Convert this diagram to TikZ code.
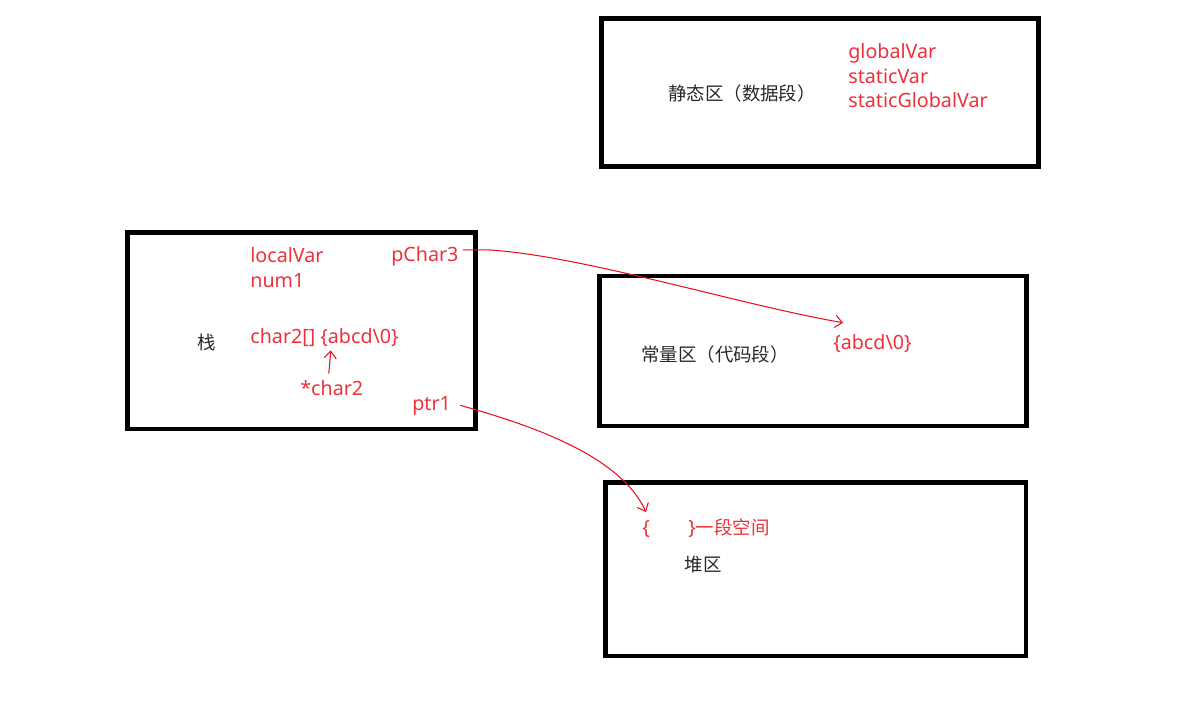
\documentclass[tikz,border=0pt]{standalone}
\usepackage{fontspec}
\setmainfont{Noto Sans}
\newfontfamily\cjk{Noto Sans CJK SC}
\usetikzlibrary{arrows.meta}
\definecolor{notered}{RGB}{238,48,58}
\definecolor{linered}{RGB}{232,16,32}
\definecolor{labelgray}{RGB}{40,40,40}
\tikzset{
    area/.style={draw=black, line width=2.8pt, inner sep=0pt},
    vartxt/.style={text=notered, inner sep=0pt, anchor=base west},
    areatxt/.style={text=labelgray, inner sep=0pt, font=\fontsize{10.5}{12}\cjk},
    ptrline/.style={draw=linered, line width=0.6pt, -{Straight Barb[length=4pt,width=7pt]}}
}
\begin{document}
\begin{tikzpicture}[x=0.02cm, y=-0.02cm, font=\fontsize{11.2}{13}\selectfont]
        \useasboundingbox (0,0) rectangle (1179,710);
        % the four regions
        \node[area, minimum width=8.74cm, minimum height=2.96cm] (static) at (820,92.5) {};
        \node[area, minimum width=6.96cm, minimum height=3.93cm] (stack) at (301.5,330.75) {};
        \node[area, minimum width=8.54cm, minimum height=3.00cm] (const) at (813,351) {};
        \node[area, minimum width=8.41cm, minimum height=3.47cm] (heap) at (815.75,569.25) {};
        % region names
        \node[areatxt] (staticname) at (742,93) {静态区（数据段）};
        \node[areatxt] (stackname) at (207,342) {栈};
        \node[areatxt] (constname) at (715,354) {常量区（代码段）};
        \node[areatxt] (heapname) at (703,565) {堆区};
        % variables
        \node[vartxt] (gvar) at (848,58) {globalVar};
        \node[vartxt] (svar) at (848,83) {staticVar};
        \node[vartxt] (sgvar) at (848,107) {staticGlobalVar};
        \node[vartxt] (lvar) at (250,262) {localVar};
        \node[vartxt] (num) at (250,287) {num1};
        \node[vartxt] (pchar) at (391,261) {pChar3};
        \node[vartxt] (arr) at (250,343) {char2[] \{abcd\textbackslash 0\}};
        \node[vartxt] (pc) at (300,395) {*char2};
        \node[vartxt] (ptr) at (412,410) {ptr1};
        \node[vartxt] (abcd) at (833,349) {\{abcd\textbackslash 0\}};
        \node[vartxt] (space) at (642,534) {\{\hspace{22pt}\}{\fontsize{10.5}{12}\cjk 一段空间}};
        % pointers
        \draw[ptrline] ([shift={(4,-6)}]pchar.east) -- ++(25,0) .. controls (580,255) and (740,305) .. ([shift={(10,-11)}]abcd.north west);
        \draw[ptrline] ([shift={(9,0)}]ptr.east) .. controls (530,425) and (620,455) .. ([shift={(4,-6)}]space.north west);
        \draw[ptrline] ([shift={(-3,-6)}]pc.north) -- ([shift={(-1,4)}]pc.north |- arr.south);
\end{tikzpicture}
\end{document}
